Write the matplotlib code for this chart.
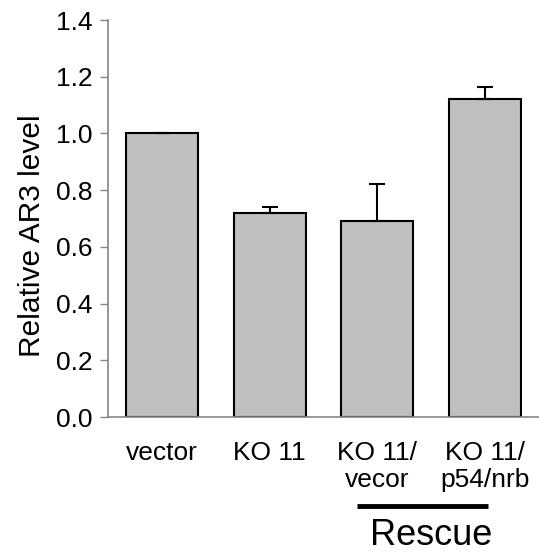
import matplotlib

matplotlib.use("Agg")

import matplotlib.pyplot as plt
import matplotlib.transforms as mtransforms

plt.rcParams["font.family"] = ["Liberation Sans", "DejaVu Sans"]

categories = ["vector", "KO 11", "KO 11/\nvecor", "KO 11/\np54/nrb"]
values = [1.00, 0.72, 0.69, 1.12]
errors = [0.002, 0.02, 0.13, 0.045]
y_ticks = [0.0, 0.2, 0.4, 0.6, 0.8, 1.0, 1.2, 1.4]

AXIS_GRAY = "#868686"

fig = plt.figure(figsize=(5.39, 5.53), dpi=100)
ax = fig.add_axes([0.2004, 0.2459, 0.7996, 0.7179])

x = list(range(len(categories)))
ax.bar(
    x,
    values,
    width=0.667,
    color="#BFBFBF",
    edgecolor="black",
    linewidth=1.5,
    yerr=[[0] * len(errors), errors],
    error_kw=dict(ecolor="black", elinewidth=1.5, capsize=6, capthick=1.5),
    zorder=2,
)

ax.set_xlim(-0.5, 3.5)
ax.set_ylim(0, 1.4)
ax.set_yticks(y_ticks)
ax.set_yticklabels([f"{t:.1f}" for t in y_ticks])
ax.set_xticks(x)
ax.set_xticklabels(categories, linespacing=1.2)

ax.tick_params(axis="y", direction="out", length=6, width=1, color=AXIS_GRAY,
               labelsize=19, pad=5)
ax.tick_params(axis="x", length=0, labelsize=19, pad=17)

for side in ["top", "right"]:
    ax.spines[side].set_visible(False)
for side in ["left", "bottom"]:
    ax.spines[side].set_color(AXIS_GRAY)
    ax.spines[side].set_linewidth(1.2)

ax.set_ylabel("Relative AR3 level", fontsize=21.5)
ax.yaxis.set_label_coords(-0.145, 0.456)

# Rescue bracket under the last two groups
trans = mtransforms.blended_transform_factory(ax.transData, fig.transFigure)
ax.plot([1.815, 3.03], [0.085, 0.085], color="black", linewidth=3.5,
        transform=trans, clip_on=False, solid_capstyle="butt")
ax.text(2.5, 0.032, "Rescue", transform=trans, ha="center", va="center",
        fontsize=26)

fig.savefig("out.png", dpi=100)
